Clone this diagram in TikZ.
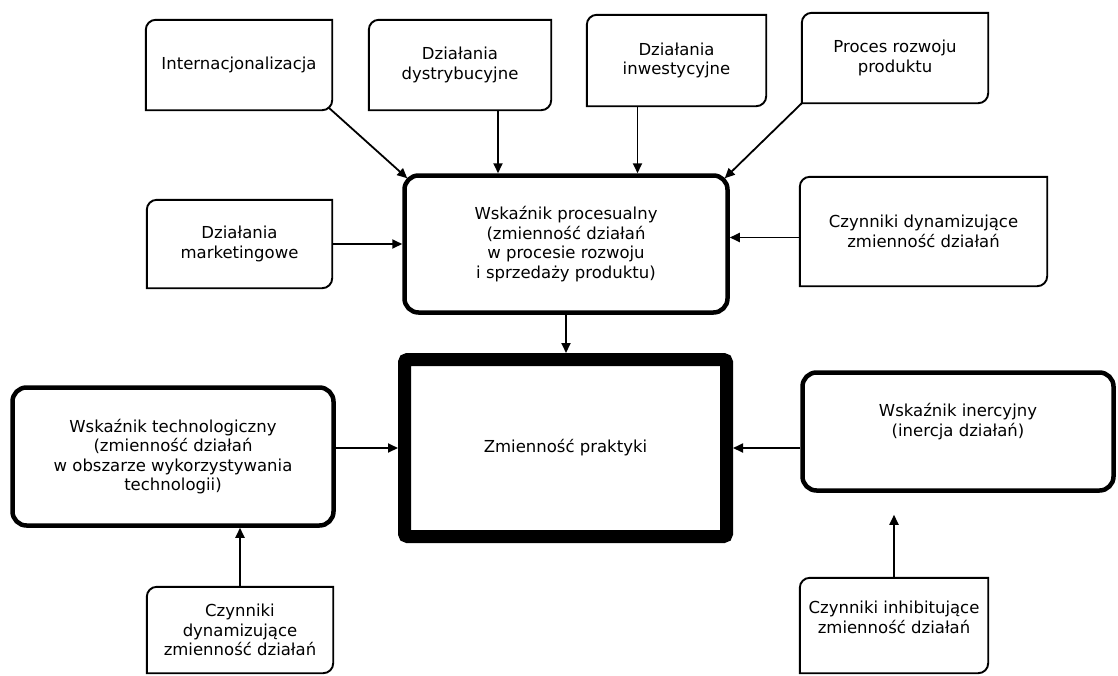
\documentclass[tikz,border=0pt]{standalone}
\usepackage{fontspec}
\setmainfont{DejaVu Sans}
\usetikzlibrary{arrows.meta,calc}
\tikzset{
  snip/.style={draw=none, align=center, inner sep=2pt},
  bigbox/.style={draw, line width=4.5pt, rounded corners=14pt, align=center, inner sep=2pt},
  mainbox/.style={draw, line width=13pt, rounded corners=3pt, align=center},
  arr/.style={line width=1.8pt, -{Triangle[length=10pt,width=9pt]}},
  frame/.style={line width=1.9pt},
  txt/.style={align=center},
}
\newcommand\snipframe[1]{\begin{scope}[x=1pt,y=1pt]\draw[frame] (#1.north east) -- ($(#1.south east)+(0,10)$) arc[start angle=0,end angle=-90,radius=10] -- (#1.south west) -- ($(#1.north west)+(0,-10)$) arc[start angle=180,end angle=90,radius=10] -- cycle;\end{scope}}
\begin{document}
\begin{tikzpicture}[x=1pt,y=-1pt,font=\fontsize{16.5}{19.5}\selectfont]
\useasboundingbox (0,0) rectangle (1118,675);

% top row
\node[snip, minimum width=186pt, minimum height=90pt] (intl) at (239,65) {Internacjonalizacja};
\node[snip, minimum width=182pt, minimum height=90pt] (dyst) at (460,65) {Działania\\dystrybucyjne};
\node[snip, minimum width=179pt, minimum height=91pt] (inwe) at (676.5,60.5) {Działania\\inwestycyjne};
\node[snip, minimum width=186pt, minimum height=90pt] (proc) at (895,58) {Proces rozwoju\\produktu};
\snipframe{intl}\snipframe{dyst}\snipframe{inwe}\snipframe{proc}

% middle row
\node[snip, minimum width=185pt, minimum height=88pt] (mark) at (239.5,244) {Działania\\marketingowe};
\node[bigbox, minimum width=323pt, minimum height=137pt] (pro) at (566,244) {Wskaźnik procesualny\\(zmienność działań\\w procesie rozwoju\\i sprzedaży produktu)};
\node[snip, minimum width=247pt, minimum height=109pt] (czyn1) at (923.5,231.5) {Czynniki dynamizujące\\zmienność działań};
\snipframe{mark}\snipframe{czyn1}

% lower row
\node[mainbox, minimum width=322pt, minimum height=177pt] (zm) at (565.5,448) {Zmienność praktyki};
\node[bigbox, minimum width=321pt, minimum height=138pt] (tech) at (173,456.5) {Wskaźnik technologiczny\\(zmienność działań\\w obszarze wykorzystywania\\technologii)};
\node[bigbox, minimum width=311pt, minimum height=118pt,
      label={[txt, yshift=10pt]center:Wskaźnik inercyjny\\(inercja działań)}] (iner) at (958,431.5) {};

% bottom row
\node[snip, minimum width=186pt, minimum height=86pt] (czyn2) at (240,630) {Czynniki\\dynamizujące\\zmienność działań};
\node[snip, minimum width=188pt, minimum height=95pt,
      label={[txt, yshift=8pt]center:Czynniki inhibitujące\\zmienność działań}] (inh) at (894,625.5) {};
\snipframe{czyn2}\snipframe{inh}

% connectors
\draw[arr] ([shift={(-4pt,3pt)}]intl.south east) -- ([shift={(5pt,-5pt)}]pro.north west);
\draw[arr] ([xshift=38pt]dyst.south) -- ([xshift=38pt]dyst.south |- pro.north);
\draw[arr] ([xshift=-39pt]inwe.south) -- ([xshift=-39pt]inwe.south |- pro.north);
\draw[arr] (proc.south west) -- ([shift={(-5pt,-5pt)}]pro.north east);
\draw[arr] (mark.east) -- (mark.east -| pro.west);
\draw[arr] ([yshift=-6pt]czyn1.west) -- ([yshift=-6pt]czyn1.west -| pro.east);
\draw[arr] (pro.south) -- (pro.south |- zm.north);
\draw[arr] (tech.east |- zm.west) -- (zm.west);
\draw[arr] (iner.west |- zm.east) -- (zm.east);
\draw[arr] (czyn2.north) -- (czyn2.north |- tech.south);
\draw[arr] (inh.north) -- ($(inh.north |- iner.south)+(0,-22pt)$);
\end{tikzpicture}
\end{document}
